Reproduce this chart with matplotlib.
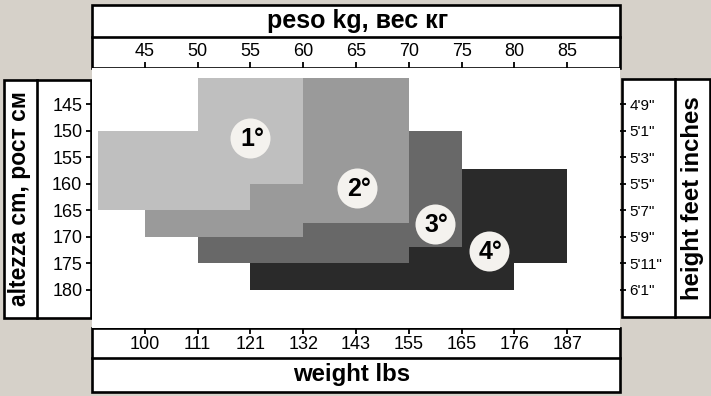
import matplotlib
matplotlib.use("Agg")
import matplotlib.pyplot as plt
from matplotlib.patches import Rectangle

plt.rcParams['font.family'] = ['Liberation Sans', 'DejaVu Sans']

# --- data ---
kg_ticks = [45, 50, 55, 60, 65, 70, 75, 80, 85]
lbs_labels = ['100', '111', '121', '132', '143', '155', '165', '176', '187']
cm_ticks = [145, 150, 155, 160, 165, 170, 175, 180]
feet_labels = ['4\'9"', '5\'1"', '5\'3"', '5\'5"', '5\'7"', '5\'9"', '5\'11"', '6\'1"']

# each size = a few rectangles: weight range (kg) x height range (cm)
size1_kg = [(50, 60), (40.6, 55)]
size1_cm = [(140, 160), (150, 165)]
size2_kg = [(60, 70), (55, 60), (45, 55)]
size2_cm = [(140, 167.5), (160, 170), (165, 170)]
size3_kg = [(70, 75), (60, 70), (50, 60)]
size3_cm = [(150, 172), (167.5, 175), (170, 175)]
size4_kg = [(75, 85), (70, 75), (55, 80)]
size4_cm = [(157.3, 175), (172, 175), (175, 180)]

size_names = ['1°', '2°', '3°', '4°']
label_kg = [55, 65.1, 72.5, 77.6]
label_cm = [151.4, 160.8, 167.6, 172.7]
size_colors = ['#bfbfbf', '#9a9a9a', '#686868', '#2a2a2a']

W, H = 711, 396
fig = plt.figure(figsize=(W / 100, H / 100), dpi=100)
fig.patch.set_facecolor('#d6d1c9')

# background layer in pixel coordinates for the framed boxes
bg = fig.add_axes([0, 0, 1, 1], zorder=-1)
bg.set_xlim(0, W)
bg.set_ylim(H, 0)
bg.axis('off')
lw = 1.9
def box(x0, y0, x1, y1):
    bg.add_patch(Rectangle((x0, y0), x1 - x0, y1 - y0, facecolor='white',
                           edgecolor='black', lw=lw))
box(92, 5, 620, 68)
bg.plot([92, 620], [37, 37], color='black', lw=lw)
box(92, 328, 620, 392)
bg.plot([92, 620], [358, 358], color='black', lw=lw)
box(4, 80, 91, 318)
bg.plot([37, 37], [80, 318], color='black', lw=lw)
box(622, 79, 710, 317)
bg.plot([675, 675], [79, 317], color='black', lw=lw)

bg.text(358, 21, 'peso kg, вес кг', ha='center', va='center', fontsize=18, fontweight='bold')
bg.text(352, 375, 'weight lbs', ha='center', va='center', fontsize=17.3, fontweight='bold')
bg.text(20, 199, 'altezza cm, рост см', ha='center', va='center', rotation=90,
        fontsize=16.5, fontweight='bold')
bg.text(693, 198, 'height feet inches', ha='center', va='center', rotation=90,
        fontsize=17.3, fontweight='bold')

# main chart
ax = fig.add_axes([92 / W, 1 - 328 / H, 528 / W, 260 / H])
ax.set_facecolor('white')
ax.set_xlim(40, 90)
ax.set_ylim(187.2, 138.2)
for s in ax.spines.values():
    s.set_visible(False)

all_kg = [size1_kg, size2_kg, size3_kg, size4_kg]
all_cm = [size1_cm, size2_cm, size3_cm, size4_cm]
for kgs, cms, col in zip(all_kg, all_cm, size_colors):
    for (k0, k1), (c0, c1) in zip(kgs, cms):
        ax.bar(k0, c1 - c0, width=k1 - k0, bottom=c0, align='edge',
               color=col, linewidth=0)

ax.scatter(label_kg, label_cm, s=830, color='#f4f2ee', zorder=3, linewidths=0)
for x, y, t in zip(label_kg, label_cm, size_names):
    ax.text(x + 0.15, y + 0.2, t, ha='center', va='center', fontsize=18,
            fontweight='bold', zorder=4)

tick_kw = dict(length=4, width=1.3, colors='black')
ax.xaxis.tick_top()
ax.set_xticks(kg_ticks)
ax.tick_params(axis='x', labelsize=13, pad=2, **tick_kw)
ax.set_yticks(cm_ticks)
ax.tick_params(axis='y', labelsize=13, pad=3, **tick_kw)

lbs = ax.secondary_xaxis('bottom')
lbs.set_xticks(kg_ticks, labels=lbs_labels)
lbs.tick_params(labelsize=13, pad=2, **tick_kw)
for s in lbs.spines.values():
    s.set_visible(False)

ft = ax.secondary_yaxis('right')
ft.set_yticks(cm_ticks, labels=feet_labels)
ft.tick_params(labelsize=11, pad=3, **tick_kw)
for s in ft.spines.values():
    s.set_visible(False)

fig.savefig('out.png', dpi=100, facecolor=fig.get_facecolor())
